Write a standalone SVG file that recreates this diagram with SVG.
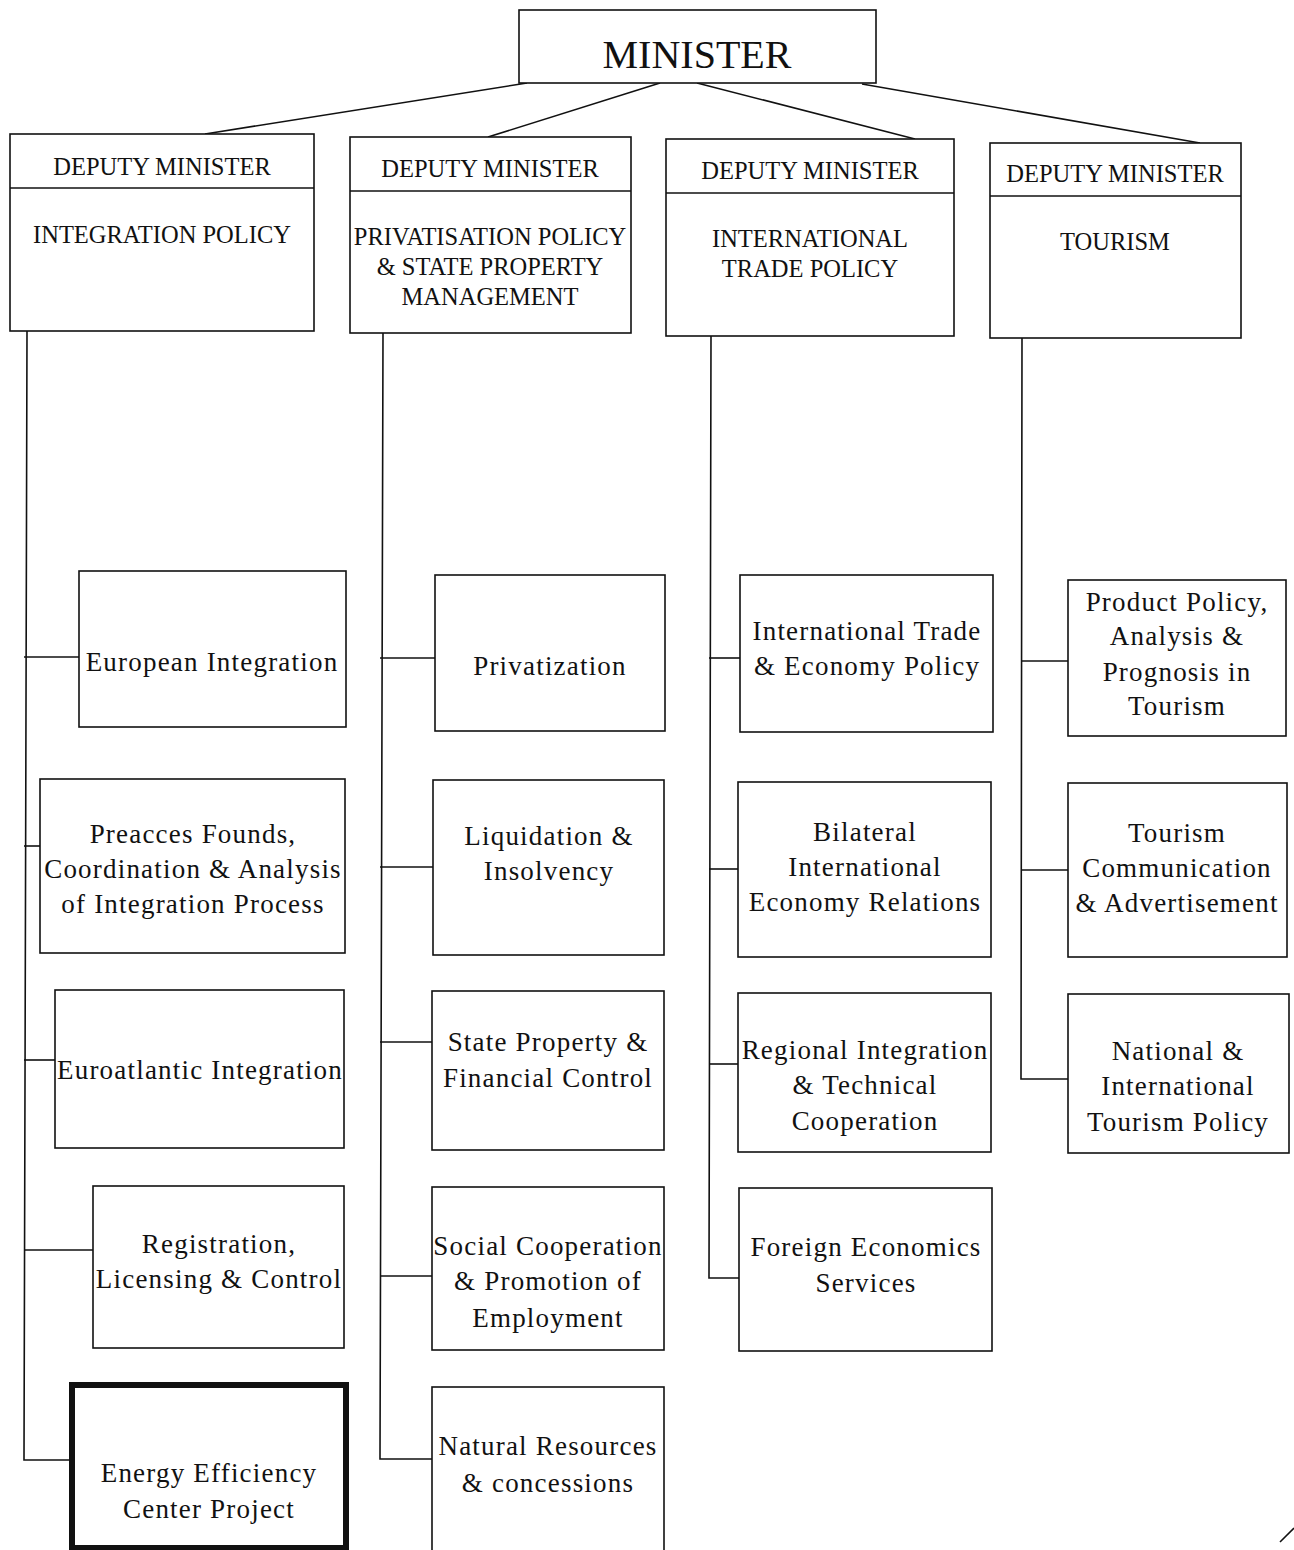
<svg xmlns="http://www.w3.org/2000/svg" width="1294" height="1550" viewBox="0 0 1294 1550">
<style>
.bx{fill:#fff;stroke:#111;stroke-width:1.6}
.thick{fill:#fff;stroke:#111;stroke-width:6}
.ln{stroke:#111;stroke-width:1.6;fill:none}
text{font-family:"Liberation Serif","Times New Roman",serif;fill:#111;text-anchor:middle}
.t{font-size:27px;letter-spacing:1.2px}
.d{font-size:24.5px;letter-spacing:0px}
.m{font-size:40px}
</style>
<rect width="1294" height="1550" fill="#fff"/>
<g id="connectors">
<line class="ln" x1="527" y1="83" x2="205" y2="134"/>
<line class="ln" x1="660" y1="83" x2="488" y2="137"/>
<line class="ln" x1="697" y1="83" x2="915" y2="139"/>
<line class="ln" x1="862" y1="84" x2="1200" y2="143"/>
<polyline class="ln" points="27,331 24,1460 72,1460"/>
<line class="ln" x1="24" y1="657" x2="79" y2="657"/>
<line class="ln" x1="24" y1="846" x2="40" y2="846"/>
<line class="ln" x1="24" y1="1060" x2="55" y2="1060"/>
<line class="ln" x1="24" y1="1250" x2="93" y2="1250"/>
<polyline class="ln" points="383,333 380,1459 432,1459"/>
<line class="ln" x1="380" y1="658" x2="435" y2="658"/>
<line class="ln" x1="380" y1="867" x2="433" y2="867"/>
<line class="ln" x1="380" y1="1042" x2="432" y2="1042"/>
<line class="ln" x1="380" y1="1276" x2="432" y2="1276"/>
<polyline class="ln" points="711,336 709,1278 739,1278"/>
<line class="ln" x1="709" y1="658" x2="740" y2="658"/>
<line class="ln" x1="709" y1="869" x2="738" y2="869"/>
<line class="ln" x1="709" y1="1064" x2="738" y2="1064"/>
<polyline class="ln" points="1022,338 1021,1079 1068,1079"/>
<line class="ln" x1="1021" y1="661" x2="1068" y2="661"/>
<line class="ln" x1="1021" y1="870" x2="1068" y2="870"/>
</g>
<g id="minister"><rect class="bx" x="519" y="10" width="357" height="73"/><text class="m" x="697" y="68">MINISTER</text></g>
<g id="dep1"><rect class="bx" x="10" y="134" width="304" height="197"/><line class="ln" x1="10" y1="188" x2="314" y2="188"/><text class="d" x="162" y="175">DEPUTY MINISTER</text><text class="d" x="162" y="243">INTEGRATION POLICY</text></g>
<g id="dep2"><rect class="bx" x="350" y="137" width="281" height="196"/><line class="ln" x1="350" y1="191" x2="631" y2="191"/><text class="d" x="490" y="177">DEPUTY MINISTER</text><text class="d" x="490" y="245">PRIVATISATION POLICY</text><text class="d" x="490" y="275">&amp; STATE PROPERTY</text><text class="d" x="490" y="305">MANAGEMENT</text></g>
<g id="dep3"><rect class="bx" x="666" y="139" width="288" height="197"/><line class="ln" x1="666" y1="193" x2="954" y2="193"/><text class="d" x="810" y="179">DEPUTY MINISTER</text><text class="d" x="810" y="247">INTERNATIONAL</text><text class="d" x="810" y="277">TRADE POLICY</text></g>
<g id="dep4"><rect class="bx" x="990" y="143" width="251" height="195"/><line class="ln" x1="990" y1="196" x2="1241" y2="196"/><text class="d" x="1115" y="182">DEPUTY MINISTER</text><text class="d" x="1115" y="250">TOURISM</text></g>

<g id="n-european"><rect class="bx" x="79" y="571" width="267" height="156"/><text class="t" x="212" y="671">European Integration</text></g>
<g id="n-preacces"><rect class="bx" x="40" y="779" width="305" height="174"/><text class="t" x="193" y="843">Preacces Founds,</text><text class="t" x="193" y="878">Coordination &amp; Analysis</text><text class="t" x="193" y="913">of Integration Process</text></g>
<g id="n-euroatlantic"><rect class="bx" x="55" y="990" width="289" height="158"/><text class="t" x="200" y="1079">Euroatlantic Integration</text></g>
<g id="n-registration"><rect class="bx" x="93" y="1186" width="251" height="162"/><text class="t" x="219" y="1253">Registration,</text><text class="t" x="219" y="1288">Licensing &amp; Control</text></g>
<g id="n-energy"><rect class="thick" x="72" y="1385" width="274" height="163"/><text class="t" x="209" y="1482">Energy Efficiency</text><text class="t" x="209" y="1518">Center Project</text></g>

<g id="n-privatization"><rect class="bx" x="435" y="575" width="230" height="156"/><text class="t" x="550" y="675">Privatization</text></g>
<g id="n-liquidation"><rect class="bx" x="433" y="780" width="231" height="175"/><text class="t" x="549" y="845">Liquidation &amp;</text><text class="t" x="549" y="880">Insolvency</text></g>
<g id="n-stateproperty"><rect class="bx" x="432" y="991" width="232" height="159"/><text class="t" x="548" y="1051">State Property &amp;</text><text class="t" x="548" y="1087">Financial Control</text></g>
<g id="n-social"><rect class="bx" x="432" y="1187" width="232" height="163"/><text class="t" x="548" y="1255">Social Cooperation</text><text class="t" x="548" y="1290">&amp; Promotion of</text><text class="t" x="548" y="1327">Employment</text></g>
<g id="n-natural"><rect class="bx" x="432" y="1387" width="232" height="170"/><text class="t" x="548" y="1455">Natural Resources</text><text class="t" x="548" y="1492">&amp; concessions</text></g>

<g id="n-inttrade"><rect class="bx" x="740" y="575" width="253" height="157"/><text class="t" x="867" y="640">International Trade</text><text class="t" x="867" y="675">&amp; Economy Policy</text></g>
<g id="n-bilateral"><rect class="bx" x="738" y="782" width="253" height="175"/><text class="t" x="865" y="841">Bilateral</text><text class="t" x="865" y="876">International</text><text class="t" x="865" y="911">Economy Relations</text></g>
<g id="n-regional"><rect class="bx" x="738" y="993" width="253" height="159"/><text class="t" x="865" y="1059">Regional Integration</text><text class="t" x="865" y="1094">&amp; Technical</text><text class="t" x="865" y="1130">Cooperation</text></g>
<g id="n-foreign"><rect class="bx" x="739" y="1188" width="253" height="163"/><text class="t" x="866" y="1256">Foreign Economics</text><text class="t" x="866" y="1292">Services</text></g>

<g id="n-product"><rect class="bx" x="1068" y="580" width="218" height="156"/><text class="t" x="1177" y="611">Product Policy,</text><text class="t" x="1177" y="645">Analysis &amp;</text><text class="t" x="1177" y="681">Prognosis in</text><text class="t" x="1177" y="715">Tourism</text></g>
<g id="n-tourcomm"><rect class="bx" x="1068" y="783" width="219" height="174"/><text class="t" x="1177" y="842">Tourism</text><text class="t" x="1177" y="877">Communication</text><text class="t" x="1177" y="912">&amp; Advertisement</text></g>
<g id="n-national"><rect class="bx" x="1068" y="994" width="221" height="159"/><text class="t" x="1178" y="1060">National &amp;</text><text class="t" x="1178" y="1095">International</text><text class="t" x="1178" y="1131">Tourism Policy</text></g>
<line class="ln" x1="1294" y1="1528" x2="1280" y2="1542"/>
</svg>
